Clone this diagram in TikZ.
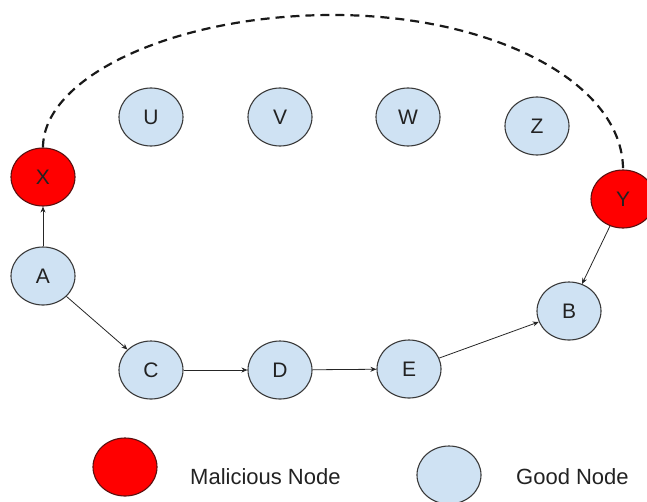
\documentclass[tikz,border=0pt]{standalone}
\usepackage{fontspec}
\setmainfont{Liberation Sans}
\usetikzlibrary{shapes.geometric,arrows.meta}
\definecolor{goodfill}{HTML}{CFE2F3}
\definecolor{badfill}{HTML}{FF0000}
\definecolor{edgecol}{HTML}{3A3A3A}
\definecolor{badedge}{HTML}{5A1010}
\definecolor{txt}{HTML}{222222}
\begin{document}
\begin{tikzpicture}[x=1pt,y=-1pt,
  good/.style={ellipse, draw=edgecol, line width=1.1pt, fill=goodfill,
    minimum width=64pt, minimum height=58pt, inner sep=0pt, text=txt,
    font=\fontsize{21}{21}\selectfont},
  bad/.style={good, fill=badfill, draw=badedge},
  link/.style={-{Stealth[length=6pt,width=5pt]}, line width=0.8pt, draw=black!85},
  dashlink/.style={line width=2.2pt, dash pattern=on 9pt off 6pt, draw=black!90},
  legend/.style={font=\fontsize{22}{22}\selectfont, text=txt, anchor=west, inner sep=0pt}]
\useasboundingbox (0,0) rectangle (647,501);
\clip (0,0) rectangle (647,501);
% nodes
\node[bad]  (X) at (43,177) {X};
\node[bad]  (Y) at (623,199) {Y};
\node[good] (U) at (151,117) {U};
\node[good] (V) at (280,117) {V};
\node[good] (W) at (408,117) {W};
\node[good] (Z) at (537,126) {Z};
\node[good] (A) at (43,276) {A};
\node[good] (C) at (151,370) {C};
\node[good] (D) at (280,370) {D};
\node[good] (E) at (409,369) {E};
\node[good] (B) at (569,311) {B};
% legend
\node[bad]  (LM) at (125,467) {};
\node[legend] (LMt) at (190,477) {Malicious Node};
\node[good] (LG) at (449,475) {};
\node[legend] (LGt) at (516,477) {Good Node};
% connectors
\draw[link] (A) -- (X);
\draw[link] (A) -- (C);
\draw[link] (C) -- (D);
\draw[link] (D) -- (E);
\draw[link] (E) -- (B);
\draw[link] (Y) -- (B);
\coordinate (top) at (333,15);
\draw[dashlink] (X.north) .. controls +(0,-70) and +(-160,0) .. (top)
  .. controls +(160,0) and +(0,-87) .. (Y.north);
\end{tikzpicture}
\end{document}
